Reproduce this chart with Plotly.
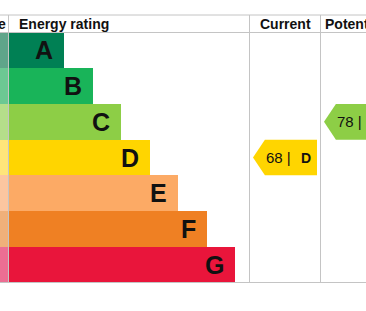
import plotly.graph_objects as go

# ---- data ----
bands = ["A", "B", "C", "D", "E", "F", "G"]
band_colors = ["#008054", "#19b459", "#8dce46", "#ffd500", "#fcaa65", "#ef8023", "#e9153b"]
faded_colors = ["#5fa58a", "#6cc893", "#b5de8a", "#ffe57a", "#fcc6a0", "#f0b07a", "#ec6e93"]
headers = ["Score", "Energy rating", "Current", "Potential"]
current_score, current_band = 68, "D"
potential_score, potential_band = 78, "C"

# ---- layout geometry (pixel-space axes) ----
W, H = 366, 311
top_line, head_bottom, bottom_line = 15, 32.5, 282.5
col_x = [8.5, 249.5, 320.5]          # column separators
bar_x0 = 9
first_len, step = 55, 28.5
band_h = (bottom_line - head_bottom) / len(bands)
FONT = "Liberation Sans, Arial, sans-serif"
LINE = "#c4c4c4"

centers = [head_bottom + band_h * (i + 0.5) for i in range(len(bands))]
lengths = [first_len + step * i for i in range(len(bands))]

fig = go.Figure()
# faded score column
fig.add_trace(go.Bar(y=centers, x=[bar_x0] * len(bands), base=0, orientation="h",
                     width=band_h, marker=dict(color=faded_colors, line=dict(width=0)),
                     hoverinfo="skip", showlegend=False))
# rating bars
fig.add_trace(go.Bar(y=centers, x=lengths, base=bar_x0, orientation="h",
                     width=band_h, marker=dict(color=band_colors, line=dict(width=0)),
                     hoverinfo="skip", showlegend=False))

annotations = []
for b, c, L in zip(bands, centers, lengths):
    annotations.append(dict(x=bar_x0 + L - 9, y=c, text=f"<b>{b}</b>", xanchor="right",
                            yanchor="middle", showarrow=False,
                            font=dict(family=FONT, size=25, color="#111")))

shapes = []
# grid lines
shapes.append(dict(type="line", x0=0, x1=W, y0=top_line, y1=top_line, line=dict(color=LINE, width=1)))
shapes.append(dict(type="line", x0=0, x1=W, y0=head_bottom, y1=head_bottom, line=dict(color=LINE, width=1)))
shapes.append(dict(type="line", x0=0, x1=W, y0=bottom_line, y1=bottom_line, line=dict(color=LINE, width=1)))
for cx in col_x:
    shapes.append(dict(type="line", x0=cx, x1=cx, y0=top_line, y1=bottom_line, line=dict(color=LINE, width=1)))

# headers
hy = (top_line + head_bottom) / 2
annotations.append(dict(x=col_x[0] - 0.5, y=hy, text=f"<b>{headers[0]}</b>", xanchor="right", yanchor="middle",
                        showarrow=False, font=dict(family=FONT, size=14, color="#111")))
annotations.append(dict(x=col_x[0] + 8, y=hy, text=f"<b>{headers[1]}</b>", xanchor="left", yanchor="middle",
                        showarrow=False, font=dict(family=FONT, size=14, color="#111")))
annotations.append(dict(x=(col_x[1] + col_x[2]) / 2, y=hy, text=f"<b>{headers[2]}</b>", xanchor="center",
                        yanchor="middle", showarrow=False, font=dict(family=FONT, size=14, color="#111")))
annotations.append(dict(x=col_x[2] + 2, y=hy, text=f"<b>{headers[3]}</b>", xanchor="left", yanchor="middle",
                        showarrow=False, font=dict(family=FONT, size=14, color="#111")))


def arrow(col_left, score, band):
    i = bands.index(band)
    y0 = head_bottom + band_h * i
    y1 = y0 + band_h
    xm = (y0 + y1) / 2
    tip = col_left + 3.5
    body = tip + band_h / 3
    right = col_left + 67.5
    path = f"M {tip},{xm} L {body},{y0} L {right},{y0} L {right},{y1} L {body},{y1} Z"
    shapes.append(dict(type="path", path=path, fillcolor=band_colors[i], line=dict(width=0)))
    annotations.append(dict(x=tip + 11, y=xm, text=f"{score} |", xanchor="left", yanchor="middle",
                            showarrow=False, font=dict(family=FONT, size=15, color="#111")))
    annotations.append(dict(x=tip + 46, y=xm, text=f"<b>{band}</b>", xanchor="left", yanchor="middle",
                            showarrow=False, font=dict(family=FONT, size=14, color="#111")))


arrow(col_x[1], current_score, current_band)
arrow(col_x[2], potential_score, potential_band)

fig.update_layout(
    width=W, height=H, margin=dict(l=0, r=0, t=0, b=0),
    paper_bgcolor="white", plot_bgcolor="white",
    bargap=0, barmode="overlay",
    xaxis=dict(range=[0, W], visible=False, fixedrange=True),
    yaxis=dict(range=[H, 0], visible=False, fixedrange=True),
    shapes=shapes, annotations=annotations,
)
fig.write_html("out.html")
